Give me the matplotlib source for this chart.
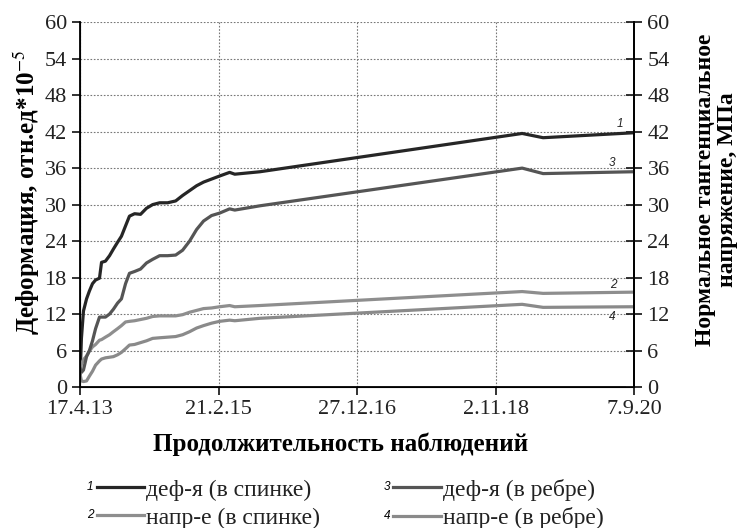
import matplotlib
matplotlib.use("Agg")
import matplotlib.pyplot as plt
import matplotlib.dates as mdates
from matplotlib.ticker import FuncFormatter, MultipleLocator
import pandas as pd

# Даты наблюдений (общие для всех рядов)
dates = ["2013-04-18", "2013-04-24", "2013-05-04", "2013-05-19", "2013-06-02",
         "2013-06-17", "2013-07-02", "2013-07-21", "2013-07-31", "2013-08-19",
         "2013-09-08", "2013-09-27", "2013-10-17", "2013-11-05", "2013-11-25",
         "2013-12-14", "2014-01-08", "2014-02-06", "2014-03-07", "2014-04-06",
         "2014-05-10", "2014-06-18", "2014-07-27", "2014-08-30", "2014-10-03",
         "2014-11-06", "2014-12-10", "2015-01-18", "2015-02-26", "2015-04-16",
         "2015-05-11", "2015-09-10", "2019-03-11", "2019-06-21", "2020-08-28"]

# 1 - деформация в спинке
def_back = [2.2, 8.0, 12.5, 14.5, 15.8, 17.0, 17.6, 17.9, 20.5, 20.7,
            21.6, 22.7, 23.8, 24.8, 26.5, 28.1, 28.5, 28.4, 29.4, 30.0,
            30.3, 30.3, 30.6, 31.5, 32.3, 33.1, 33.7, 34.2, 34.7, 35.3,
            35.0, 35.4, 41.7, 41.0, 41.8]
# 2 - напряжение в спинке
str_back = [2.8, 3.8, 4.5, 5.1, 5.9, 6.6, 7.0, 7.7, 7.8, 8.2,
            8.6, 9.1, 9.6, 10.1, 10.7, 10.8, 10.9, 11.1, 11.3, 11.6,
            11.7, 11.7, 11.7, 11.9, 12.3, 12.6, 12.9, 13.0, 13.2, 13.4,
            13.2, 13.4, 15.7, 15.4, 15.6]
# 3 - деформация в ребре
def_rib = [3.0, 2.4, 2.8, 5.0, 6.0, 7.6, 9.6, 11.5, 11.5, 11.5,
           12.0, 12.8, 13.8, 14.5, 17.0, 18.7, 19.0, 19.4, 20.4, 21.0,
           21.6, 21.6, 21.7, 22.5, 24.0, 25.9, 27.3, 28.2, 28.6, 29.3,
           29.1, 29.8, 36.0, 35.1, 35.4]
# 4 - напряжение в ребре
str_rib = [2.0, 1.0, 0.9, 1.0, 1.8, 2.6, 3.6, 4.3, 4.6, 4.8,
           4.9, 5.0, 5.3, 5.7, 6.3, 6.9, 7.0, 7.3, 7.6, 8.0,
           8.1, 8.2, 8.3, 8.6, 9.1, 9.7, 10.1, 10.5, 10.8, 11.0,
           10.9, 11.3, 13.6, 13.1, 13.2]

tick_dates = ["2013-04-17", "2015-02-21", "2016-12-27", "2018-11-02", "2020-09-07"]

x = pd.to_datetime(dates)
ticks = pd.to_datetime(tick_dates)

plt.rcParams['font.family'] = ['Liberation Serif', 'DejaVu Serif']
plt.rcParams['mathtext.fontset'] = 'stix'

fig = plt.figure(figsize=(7.44, 5.28), dpi=100)
ax = fig.add_axes([0.1075, 0.267, 0.745, 0.691])

series = [
    ("1", "деф-я (в спинке)", def_back, "#262626"),
    ("2", "напр-е (в спинке)", str_back, "#8e8e8e"),
    ("3", "деф-я (в ребре)", def_rib, "#555555"),
    ("4", "напр-е (в ребре)", str_rib, "#8a8a8a"),
]
# смещение подписей у концов линий, pt
offsets = {"1": (-8.5, 6.5), "2": (-13.5, 5.5), "3": (-14.5, 6.5), "4": (-14.5, -7.5)}
handles = []
for num, lab, vals, col in series:
    ln, = ax.plot(x, vals, color=col, lw=2.3, solid_joinstyle="round")
    handles.append(ln)
    ax.annotate(num, (x[-1], vals[-1]), xytext=offsets[num], textcoords="offset points",
                ha="center", va="center", fontsize=8.5, style="italic",
                family="Liberation Sans", color="#222222")

ax.set_xlim(ticks[0], ticks[-1])
ax.set_ylim(0, 60)
ax.set_xticks(ticks)
ax.xaxis.set_major_formatter(FuncFormatter(
    lambda v, p: "{0.day}.{0.month}.{0:%y}".format(mdates.num2date(v))))
ax.yaxis.set_major_locator(MultipleLocator(6))
ax.grid(True, linestyle=(0, (1.5, 1.5)), color="#777777", lw=0.8)
ax.tick_params(axis="both", labelsize=16, direction="out", length=6, width=1.3,
               colors="#222222")
ax.spines["top"].set_visible(False)
for s in ["left", "bottom", "right"]:
    ax.spines[s].set_linewidth(1.3)

ax.set_xlabel("Продолжительность наблюдений", fontsize=18, fontweight="bold", labelpad=9.5)
ax.xaxis.label.set_x(0.471)
ax.set_ylabel("Деформация, отн.ед*10$^{-5}$", fontsize=18, fontweight="bold", labelpad=2)
ax.yaxis.label.set_y(0.534)

ax2 = ax.twinx()
ax2.set_ylim(0, 60)
ax2.yaxis.set_major_locator(MultipleLocator(6))
ax2.tick_params(axis="y", labelsize=16, direction="inout", length=12, width=1.3,
                colors="#222222")
ax2.spines["top"].set_visible(False)
ax2.spines["right"].set_linewidth(1.3)
ax2.set_ylabel("Нормальное тангенциальное\nнапряжение, МПа", fontsize=17,
               fontweight="bold", labelpad=18, linespacing=1.05)
ax2.yaxis.label.set_y(0.54)

leg = fig.legend(handles, [s[1] for s in series], ncol=2, loc="upper left",
                 bbox_to_anchor=(0.114, 0.116), frameon=False, fontsize=17,
                 handlelength=2.0, handletextpad=0.1, columnspacing=3.1,
                 labelspacing=0.28, borderpad=0)
for t in leg.get_texts():
    t.set_color("#222222")

# номера слева от линий легенды
fig.canvas.draw()
r = fig.canvas.get_renderer()
for num, line in zip(["1", "2", "3", "4"], leg.get_lines()):
    bb = line.get_window_extent(r)
    fig.text(bb.x0 - 3, (bb.y0 + bb.y1) / 2, num, transform=None, ha="right",
             va="center", fontsize=8.5, style="italic", family="Liberation Sans")

fig.savefig("out.png", dpi=100)
